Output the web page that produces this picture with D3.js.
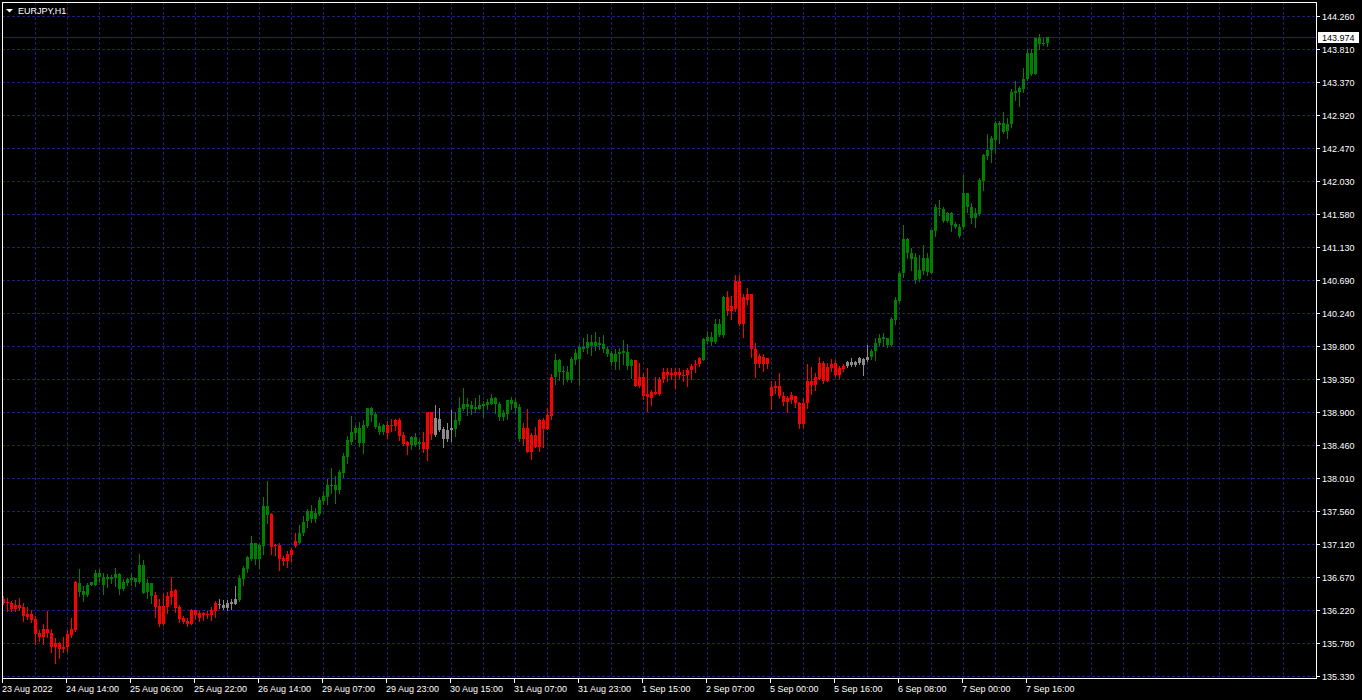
<!DOCTYPE html>
<html>
<head>
<meta charset="utf-8">
<script src="https://cdn.jsdelivr.net/npm/d3@7"></script>
<style>
  html, body { margin: 0; padding: 0; background: #000; }
  svg { display: block; }
  text { font-family: "Liberation Sans", Arial, sans-serif; font-size: 9px; }
</style>
</head>
<body>
<svg id="chart" width="1362" height="700"></svg>
<script>
// EURJPY, H1 - bars
var symbol = "EURJPY,H1";
var lastPrice = 143.974;

var open = [
  136.375,136.334,136.311,136.230,136.289,136.262,136.163,136.163,136.095,135.915,
  135.856,135.960,135.915,135.725,135.770,135.689,135.721,135.883,135.946,136.591,
  136.478,136.424,136.559,136.568,136.717,136.668,136.636,136.668,136.650,136.704,
  136.501,136.582,136.627,136.650,136.600,136.830,136.465,136.582,136.420,136.275,
  136.027,136.266,136.402,136.487,136.262,136.108,136.072,136.027,136.217,136.185,
  136.154,136.172,136.154,136.208,136.307,136.285,136.244,136.307,136.298,136.352,
  136.636,136.772,136.907,137.123,136.907,137.087,137.628,137.516,137.087,137.096,
  136.920,136.880,136.966,137.087,137.132,137.259,137.426,137.561,137.448,137.516,
  137.696,137.750,137.913,137.908,137.840,138.080,138.292,138.499,138.621,138.679,
  138.476,138.711,138.950,138.869,138.630,138.630,138.720,138.711,138.711,138.788,
  138.589,138.494,138.454,138.562,138.472,138.494,138.395,138.900,138.589,138.801,
  138.666,138.530,138.657,138.666,138.778,138.936,139.017,138.990,138.936,138.945,
  138.981,138.990,139.017,139.085,139.017,138.833,138.869,139.058,139.036,138.968,
  138.530,138.679,138.359,138.589,138.427,138.788,138.666,138.846,139.374,139.599,
  139.441,139.446,139.329,139.604,139.613,139.780,139.762,139.852,139.793,139.838,
  139.816,139.757,139.703,139.577,139.689,139.694,139.712,139.523,139.603,139.251,
  139.378,139.139,139.094,139.175,139.139,139.342,139.446,139.409,139.446,139.409,
  139.409,139.396,139.468,139.536,139.545,139.612,139.869,139.919,139.851,140.086,
  139.942,140.456,140.275,140.302,140.681,140.099,140.424,140.492,139.761,139.558,
  139.648,139.558,139.238,139.220,139.251,139.125,139.035,139.071,139.125,139.026,
  138.746,139.026,139.328,139.274,139.351,139.567,139.328,139.500,139.567,139.409,
  139.486,139.531,139.577,139.536,139.559,139.613,139.604,139.644,139.725,139.829,
  139.883,139.897,139.802,140.145,140.402,140.776,141.245,141.047,140.997,140.695,
  140.808,140.988,140.785,141.349,141.665,141.651,141.493,141.597,141.439,141.408,
  141.403,141.859,141.678,141.521,141.575,142.026,142.364,142.441,142.589,142.815,
  142.693,142.801,142.792,143.221,143.230,143.279,143.401,143.753,143.482,143.956,
  143.875,143.888
];
var high = [
  136.411,136.379,136.343,136.356,136.379,136.320,136.266,136.217,136.140,135.946,
  136.027,136.208,135.960,135.838,135.793,135.860,135.951,136.108,136.614,136.771,
  136.546,136.591,136.603,136.758,136.771,136.717,136.704,136.695,136.785,136.717,
  136.645,136.659,136.717,136.659,136.974,136.893,136.636,136.582,136.465,136.366,
  136.433,136.465,136.668,136.501,136.284,136.140,136.117,136.230,136.217,136.208,
  136.194,136.208,136.262,136.339,136.366,136.357,136.357,136.366,136.546,136.695,
  136.817,136.952,137.223,137.132,137.110,137.750,137.967,137.538,137.119,137.123,
  136.952,137.020,137.065,137.268,137.367,137.493,137.583,137.642,137.597,137.750,
  137.831,137.998,138.138,138.034,138.111,138.350,138.576,138.846,138.720,138.765,
  138.792,138.955,138.972,138.905,138.756,138.742,138.779,138.801,138.810,138.824,
  138.630,138.508,138.576,138.612,138.530,138.630,138.900,138.900,138.990,138.950,
  138.702,138.747,138.927,138.905,139.108,139.220,139.085,139.049,139.094,139.126,
  139.049,139.072,139.139,139.103,139.040,138.927,139.063,139.103,139.085,139.004,
  138.756,138.936,138.621,138.697,138.810,138.815,138.950,139.419,139.680,139.613,
  139.523,139.523,139.644,139.757,139.802,139.897,139.951,139.942,139.987,139.919,
  139.942,139.784,139.726,139.748,139.762,139.870,139.816,139.613,139.612,139.567,
  139.432,139.500,139.206,139.373,139.373,139.491,139.491,139.500,139.491,139.491,
  139.477,139.491,139.545,139.612,139.648,139.905,139.996,139.982,140.163,140.154,
  140.478,140.537,140.478,140.753,140.753,140.492,140.573,140.492,139.829,139.680,
  139.680,139.635,139.328,139.328,139.432,139.175,139.116,139.175,139.125,139.035,
  139.094,139.554,139.513,139.432,139.648,139.590,139.567,139.621,139.603,139.522,
  139.558,139.590,139.635,139.590,139.644,139.626,139.807,139.748,139.906,139.960,
  139.973,139.906,140.185,140.456,140.808,141.426,141.259,141.123,141.056,141.033,
  141.155,141.056,141.371,141.723,141.764,141.674,141.606,141.606,141.471,141.448,
  142.102,141.868,141.724,141.665,142.071,142.396,142.657,142.635,142.837,142.837,
  142.964,142.883,143.266,143.379,143.311,143.559,143.816,143.816,143.956,144.010,
  143.965,143.978
];
var low = [
  136.298,136.208,136.208,136.208,136.221,136.072,136.104,136.059,135.757,135.802,
  135.757,135.856,135.657,135.509,135.576,135.657,135.666,135.860,135.937,136.411,
  136.343,136.411,136.555,136.559,136.614,136.433,136.537,136.591,136.546,136.433,
  136.492,136.559,136.555,136.546,136.591,136.447,136.379,136.311,136.126,136.005,
  136.014,136.185,136.298,136.194,136.059,136.041,136.005,136.027,136.095,136.072,
  136.081,136.108,136.086,136.131,136.253,136.230,136.221,136.230,136.298,136.339,
  136.560,136.740,136.898,136.839,136.785,136.975,137.403,136.975,136.966,136.758,
  136.826,136.808,136.884,137.078,137.123,137.236,137.344,137.417,137.412,137.507,
  137.651,137.651,137.809,137.674,137.800,138.021,138.206,138.472,138.530,138.440,
  138.341,138.702,138.779,138.679,138.607,138.598,138.544,138.643,138.652,138.521,
  138.454,138.328,138.395,138.440,138.395,138.359,138.251,138.530,138.575,138.643,
  138.427,138.508,138.508,138.575,138.733,138.923,138.860,138.878,138.905,138.936,
  138.837,138.945,139.017,138.891,138.788,138.788,138.801,138.936,138.891,138.508,
  138.454,138.359,138.269,138.427,138.373,138.427,138.666,138.810,139.275,139.329,
  139.275,139.320,139.311,139.554,139.266,139.726,139.703,139.671,139.735,139.748,
  139.717,139.658,139.536,139.478,139.478,139.554,139.478,139.356,139.251,139.242,
  139.080,138.913,139.003,139.139,139.130,139.310,139.319,139.355,139.220,139.364,
  139.319,139.251,139.355,139.446,139.522,139.603,139.838,139.815,139.838,139.928,
  139.919,140.221,140.163,140.266,140.077,139.915,140.370,139.644,139.378,139.513,
  139.454,139.491,138.936,139.161,139.085,139.003,138.900,139.026,138.967,138.688,
  138.697,138.958,139.152,139.206,139.342,139.297,139.319,139.454,139.387,139.364,
  139.454,139.513,139.522,139.522,139.545,139.396,139.590,139.622,139.604,139.807,
  139.793,139.780,139.793,140.095,140.393,140.731,140.979,140.830,140.641,140.681,
  140.763,140.749,140.776,141.290,141.561,141.471,141.471,141.349,141.385,141.272,
  141.394,141.611,141.453,141.403,141.561,141.904,142.328,142.283,142.400,142.535,
  142.680,142.603,142.756,143.122,143.040,143.230,143.392,143.455,143.482,143.816,
  143.861,143.852
];
var close = [
  136.320,136.320,136.230,136.284,136.244,136.140,136.131,136.086,135.892,135.856,
  135.960,135.915,135.725,135.770,135.689,135.725,135.892,135.960,136.600,136.465,
  136.424,136.568,136.600,136.717,136.668,136.559,136.668,136.636,136.704,136.510,
  136.600,136.636,136.650,136.600,136.826,136.456,136.582,136.411,136.262,136.027,
  136.275,136.411,136.478,136.244,136.095,136.059,136.027,136.221,136.154,136.108,
  136.176,136.154,136.217,136.321,136.289,136.248,136.321,136.334,136.366,136.650,
  136.785,136.939,137.123,136.907,137.096,137.628,137.502,137.074,137.105,136.907,
  136.884,136.975,137.033,137.155,137.268,137.417,137.561,137.448,137.529,137.705,
  137.764,137.908,137.899,137.840,138.089,138.305,138.517,138.630,138.679,138.476,
  138.720,138.950,138.860,138.697,138.711,138.724,138.621,138.724,138.788,138.576,
  138.472,138.440,138.562,138.454,138.494,138.395,138.900,138.598,138.815,138.657,
  138.530,138.652,138.679,138.788,138.950,139.017,138.972,138.936,138.968,138.990,
  139.013,139.036,139.085,139.004,138.833,138.882,139.058,139.017,138.950,138.530,
  138.679,138.359,138.589,138.427,138.788,138.666,138.855,139.374,139.599,139.441,
  139.455,139.329,139.613,139.703,139.780,139.748,139.852,139.793,139.847,139.802,
  139.748,139.689,139.577,139.689,139.712,139.726,139.523,139.599,139.251,139.378,
  139.125,139.103,139.175,139.152,139.355,139.446,139.409,139.432,139.409,139.446,
  139.400,139.477,139.531,139.545,139.626,139.896,139.919,139.851,140.086,139.942,
  140.456,140.275,140.334,140.672,140.086,140.456,140.492,139.748,139.558,139.657,
  139.558,139.626,139.116,139.251,139.116,139.035,139.085,139.130,139.026,138.746,
  139.026,139.328,139.274,139.373,139.567,139.328,139.513,139.554,139.409,139.491,
  139.531,139.577,139.536,139.577,139.635,139.536,139.649,139.734,139.838,139.906,
  139.915,139.802,140.154,140.424,140.785,141.245,141.047,140.975,140.686,140.830,
  140.988,140.794,141.358,141.678,141.656,141.493,141.597,141.430,141.403,141.281,
  141.859,141.674,141.521,141.588,142.035,142.373,142.441,142.603,142.806,142.779,
  142.815,142.702,143.230,143.243,143.288,143.410,143.753,143.482,143.956,143.875,
  143.888,143.974
];

// trend state of each bar as runs (state, number of bars)
var trendRuns = [
  ["down",19],["up",19],["down",16],["flat",5],["up",8],["down",7],["up",22],
  ["down",6],["up",3],["down",3],["flat",5],["up",17],["down",8],["up",20],
  ["down",17],["up",6],["down",30],["flat",6],["up",45]
];

var priceLabels = ["135.330","135.780","136.220","136.670","137.120","137.560","138.010",
  "138.460","138.900","139.350","139.800","140.240","140.690","141.130","141.580",
  "142.030","142.470","142.920","143.370","143.810","144.260"];

var timeLabels = ["23 Aug 2022","24 Aug 14:00","25 Aug 06:00","25 Aug 22:00",
  "26 Aug 14:00","29 Aug 07:00","29 Aug 23:00","30 Aug 15:00","31 Aug 07:00",
  "31 Aug 23:00","1 Sep 15:00","2 Sep 07:00","5 Sep 00:00","5 Sep 16:00",
  "6 Sep 08:00","7 Sep 00:00","7 Sep 16:00"];

var colors = { up: "#008000", down: "#ff0000", flat: "#8c8c8c" };
var gridColor = "#20207a";

var trend = [];
trendRuns.forEach(function (r) {
    for (var k = 0; k < r[1]; k++) trend.push(r[0]);
});

var bars = open.map(function (o, i) {
    return { i: i, o: o, h: high[i], l: low[i], c: close[i], t: trend[i] };
});

// plot frame (window.top is reserved, so no "top" here)
var plotLeft = 2, plotRight = 1316, plotTop = 2, plotBottom = 678;

var svg = d3.select("#chart");
svg.append("rect").attr("width", 1362).attr("height", 700).attr("fill", "#000");

// 4 px per hourly bar
var x = d3.scaleLinear().domain([0, 1]).range([3.5, 7.5]);
var y = d3.scaleLinear().domain([135.330, 144.260]).range([676, 16]);

var px = function (v) { return Math.round(v) + 0.5; };

// grid
var grid = svg.append("g");
grid.selectAll("line.h")
    .data(priceLabels)
    .enter().append("line")
    .attr("x1", plotLeft).attr("x2", plotRight)
    .attr("y1", function (d) { return px(y(+d)); })
    .attr("y2", function (d) { return px(y(+d)); })
    .attr("stroke", gridColor)
    .attr("stroke-dasharray", "3,2");

grid.selectAll("line.v")
    .data(d3.range(8, 328, 8))
    .enter().append("line")
    .attr("x1", function (d) { return Math.floor(x(d)) + 0.5; })
    .attr("x2", function (d) { return Math.floor(x(d)) + 0.5; })
    .attr("y1", plotTop).attr("y2", plotBottom)
    .attr("stroke", gridColor)
    .attr("stroke-dasharray", "3,2");

// last price line
svg.append("line")
    .attr("x1", plotLeft).attr("x2", plotRight)
    .attr("y1", px(y(lastPrice))).attr("y2", px(y(lastPrice)))
    .attr("stroke", gridColor);

// candles
var candles = svg.append("g").selectAll("g")
    .data(bars)
    .enter().append("g");

candles.append("rect")
    .attr("x", function (d) { return Math.floor(x(d.i)); })
    .attr("width", 1)
    .attr("y", function (d) { return Math.round(y(d.h)); })
    .attr("height", function (d) { return Math.max(1, Math.round(y(d.l)) - Math.round(y(d.h)) + 1); })
    .attr("fill", function (d) { return colors[d.t]; });

candles.append("rect")
    .attr("x", function (d) { return Math.floor(x(d.i)) - 1; })
    .attr("width", 3)
    .attr("y", function (d) { return Math.round(y(Math.max(d.o, d.c))); })
    .attr("height", function (d) {
        return Math.max(1, Math.round(y(Math.min(d.o, d.c))) - Math.round(y(Math.max(d.o, d.c))));
    })
    .attr("fill", function (d) { return colors[d.t]; });

// frame
svg.append("rect")
    .attr("x", plotLeft + 0.5).attr("y", plotTop + 0.5)
    .attr("width", plotRight - plotLeft).attr("height", plotBottom - plotTop)
    .attr("fill", "none").attr("stroke", "#fff");

// price scale
var yAxis = svg.append("g");
yAxis.selectAll("line")
    .data(priceLabels)
    .enter().append("line")
    .attr("x1", plotRight + 1).attr("x2", plotRight + 4)
    .attr("y1", function (d) { return px(y(+d)); })
    .attr("y2", function (d) { return px(y(+d)); })
    .attr("stroke", "#fff");
yAxis.selectAll("text")
    .data(priceLabels)
    .enter().append("text")
    .attr("x", plotRight + 6)
    .attr("y", function (d) { return Math.round(y(+d)) + 4; })
    .attr("fill", "#fff")
    .text(function (d) { return d; });

// last price tag
var ly = Math.round(y(lastPrice));
svg.append("rect")
    .attr("x", plotRight + 2).attr("y", ly - 5)
    .attr("width", 41).attr("height", 11)
    .attr("fill", "#fff");
svg.append("text")
    .attr("x", plotRight + 6).attr("y", ly + 4)
    .attr("fill", "#000")
    .text(lastPrice.toFixed(3));

// time scale, one label every 16 bars
var xAxis = svg.append("g");
xAxis.selectAll("line")
    .data(timeLabels)
    .enter().append("line")
    .attr("x1", function (d, k) { return Math.floor(x(16 * k)) - 0.5; })
    .attr("x2", function (d, k) { return Math.floor(x(16 * k)) - 0.5; })
    .attr("y1", plotBottom + 1).attr("y2", plotBottom + 5)
    .attr("stroke", "#fff");
xAxis.selectAll("text")
    .data(timeLabels)
    .enter().append("text")
    .attr("x", function (d, k) { return Math.floor(x(16 * k)) - 1; })
    .attr("y", 692)
    .attr("fill", "#fff")
    .text(function (d) { return d; });

// title
svg.append("path")
    .attr("d", "M6,9 L13,9 L9.5,12.5 Z")
    .attr("fill", "#fff");
svg.append("text")
    .attr("x", 18).attr("y", 14)
    .attr("fill", "#fff")
    .text(symbol);
</script>
</body>
</html>
